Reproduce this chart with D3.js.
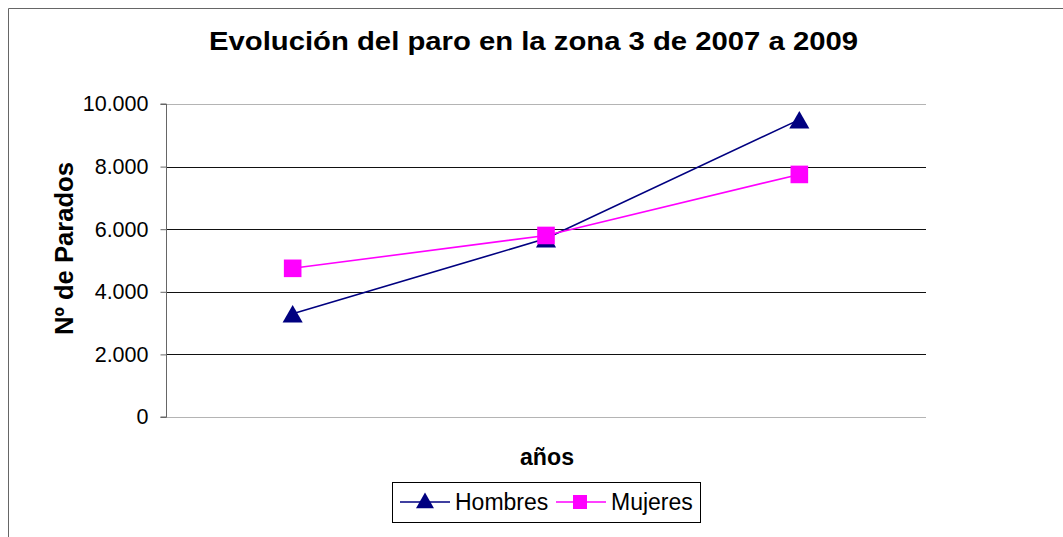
<!DOCTYPE html>
<html>
<head>
<meta charset="utf-8">
<script src="https://cdn.jsdelivr.net/npm/d3@7"></script>
<style>
	body { margin: 0; background: #fff; }
	svg { display: block; font-family: "Liberation Sans", Arial, sans-serif; }
</style>
</head>
<body>
<svg id="chart" width="1063" height="537"></svg>
<script>
const years = ['2007', '2008', '2009'];
const hombres = [3300, 5700, 9500];
const mujeres = [4750, 5800, 7750];
const yTicks = [0, 2000, 4000, 6000, 8000, 10000];

const series = [
	{ name: 'Hombres', values: hombres, color: '#000080', symbol: d3.symbolTriangle },
	{ name: 'Mujeres', values: mujeres, color: '#ff00ff', symbol: d3.symbolSquare }
];

const svg = d3.select('#chart');

// outer chart frame (right/bottom edge cut off by the picture)
svg.append('path')
	.attr('d', 'M8.5,1000 V8.5 H1100')
	.attr('fill', 'none')
	.attr('stroke', '#666');

const x = d3.scaleBand().domain(years).range([166, 926]);
const y = d3.scaleLinear().domain([0, 10000]).range([417, 104]);

// gridlines
svg.append('g')
	.selectAll('line')
	.data(yTicks)
	.enter()
	.append('line')
	.attr('x1', 166)
	.attr('x2', 926)
	.attr('y1', d => Math.round(y(d)) + 0.5)
	.attr('y2', d => Math.round(y(d)) + 0.5)
	.attr('stroke', d => (d === 0 || d === 10000) ? '#b4b4b4' : '#111');

// y axis
const fmt = d => d3.format(',')(d).replace(/,/g, '.');
svg.append('g')
	.attr('transform', 'translate(166.5,0)')
	.call(d3.axisLeft(y).tickValues(yTicks).tickFormat(fmt).tickSize(6).tickPadding(12))
	.call(g => g.select('.domain').attr('stroke', '#666').attr('d', `M-6,${y(10000)}H0V${y(0)}H-6`))
	.call(g => g.selectAll('.tick line').attr('stroke', '#666'))
	.call(g => g.selectAll('.tick text')
		.attr('font-size', 21.5)
		.attr('font-family', '"Liberation Sans", Arial, sans-serif')
		.attr('fill', '#000'));

// lines and markers
const cx = i => x(years[i]) + x.bandwidth() / 2;
const line = d3.line()
	.x((d, i) => cx(i))
	.y(d => y(d));

series.forEach(s => {
	svg.append('path')
		.datum(s.values)
		.attr('d', line)
		.attr('fill', 'none')
		.attr('stroke', s.color)
		.attr('stroke-width', 1.6);

	svg.append('g')
		.selectAll('path')
		.data(s.values)
		.enter()
		.append('path')
		.attr('transform', (d, i) => `translate(${cx(i)},${y(d) + (s.symbol === d3.symbolTriangle ? 3 : 0)})`)
		.attr('d', d3.symbol().type(s.symbol).size(s.symbol === d3.symbolSquare ? 310 : 175))
		.attr('fill', s.color);
});

// titles
svg.append('text')
	.attr('x', 209)
	.attr('y', 50)
	.attr('textLength', 649)
	.attr('lengthAdjust', 'spacingAndGlyphs')
	.attr('font-size', 26)
	.attr('font-weight', 'bold')
	.text('Evolución del paro en la zona 3 de 2007 a 2009');

svg.append('text')
	.attr('transform', 'translate(73,335) rotate(-90)')
	.attr('textLength', 173)
	.attr('lengthAdjust', 'spacingAndGlyphs')
	.attr('font-size', 25)
	.attr('font-weight', 'bold')
	.text('Nº de Parados');

svg.append('text')
	.attr('x', 520)
	.attr('y', 465)
	.attr('textLength', 54)
	.attr('lengthAdjust', 'spacingAndGlyphs')
	.attr('font-size', 23)
	.attr('font-weight', 'bold')
	.text('años');

// legend
const legend = svg.append('g');
legend.append('rect')
	.attr('x', 392.5)
	.attr('y', 482.5)
	.attr('width', 308)
	.attr('height', 40)
	.attr('fill', '#fff')
	.attr('stroke', '#000');

const legendX = [400, 556];
series.forEach((s, i) => {
	const g = legend.append('g').attr('transform', `translate(${legendX[i]},502)`);
	g.append('line')
		.attr('x1', 0).attr('x2', 50)
		.attr('stroke', s.color)
		.attr('stroke-width', 1.5);
	g.append('path')
		.attr('transform', `translate(${i === 0 ? 25 : 24},${s.symbol === d3.symbolTriangle ? 1 : 0})`)
		.attr('d', d3.symbol().type(s.symbol).size(s.symbol === d3.symbolSquare ? 196 : 140))
		.attr('fill', s.color);
	g.append('text')
		.attr('x', 55)
		.attr('y', 8)
		.attr('font-size', 23)
		.text(s.name);
});
</script>
</body>
</html>
